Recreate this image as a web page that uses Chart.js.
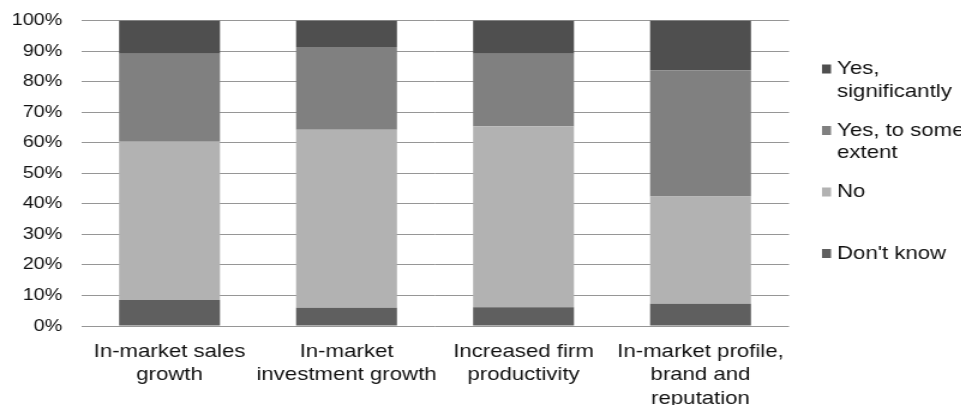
<!DOCTYPE html>
<html>
<head>
<meta charset="utf-8">
<script src="https://cdn.jsdelivr.net/npm/chart.js@4.4.1/dist/chart.umd.min.js"></script>
<style>
  html, body { margin: 0; padding: 0; background: #fff; overflow: hidden; }
  /* the chart is laid out on a narrower canvas and widened to the page width */
  #wrap { width: 801px; height: 405px; transform: scaleX(1.2); transform-origin: 0 0; }
  canvas { display: block; }
</style>
</head>
<body>
<div id="wrap"><canvas id="c" width="801" height="405"></canvas></div>
<script>
// Survey outcomes, share of respondents (%)
const categories = [
  ['In-market sales', 'growth'],
  ['In-market', 'investment growth'],
  ['Increased firm', 'productivity'],
  ['In-market profile,', 'brand and', 'reputation']
];
const dontKnow         = [8.5, 6.0, 6.1, 7.3];
const no               = [51.8, 58.2, 59.3, 35.1];
const yesToSomeExtent  = [28.8, 27.1, 23.7, 41.3];
const yesSignificantly = [10.9, 8.7, 10.9, 16.3];

const seriesNames  = ["Don't know", 'No', 'Yes, to some extent', 'Yes, significantly'];
const legendLines  = [["Don't know"], ['No'], ['Yes, to some', 'extent'], ['Yes,', 'significantly']];
const seriesColors = ['#5f5f5f', '#b2b2b2', '#808080', '#4f4f4f'];

const FONT = "'Liberation Sans', Arial, sans-serif";

// Legend to the right of the plot, top entry = last series
const sideLegend = {
  id: 'sideLegend',
  afterDraw(chart, args, opts) {
    const ctx = chart.ctx;
    const sets = chart.data.datasets;
    ctx.save();
    ctx.font = `${opts.fontSize}px ${FONT}`;
    ctx.textBaseline = 'middle';
    ctx.textAlign = 'left';
    for (let i = 0; i < sets.length; i++) {
      const idx = sets.length - 1 - i;
      const y = opts.top + i * opts.gap;
      ctx.fillStyle = sets[idx].backgroundColor;
      ctx.fillRect(opts.boxX, y - opts.boxH / 2, opts.boxW, opts.boxH);
      ctx.fillStyle = '#111';
      legendLines[idx].forEach((line, j) => {
        ctx.fillText(line, opts.textX, y + j * opts.lineHeight);
      });
    }
    ctx.restore();
  }
};

const datasets = [dontKnow, no, yesToSomeExtent, yesSignificantly].map((values, i) => ({
  label: seriesNames[i],
  data: values,
  backgroundColor: seriesColors[i],
  borderWidth: 0,
  barPercentage: 0.57,
  categoryPercentage: 1.0
}));

new Chart(document.getElementById('c'), {
  type: 'bar',
  data: { labels: categories, datasets },
  plugins: [sideLegend],
  options: {
    responsive: false,
    animation: false,
    layout: { padding: { top: 20.5, right: 143.5, left: 0, bottom: 0 } },
    plugins: {
      legend: { display: false },
      tooltip: { enabled: false },
      sideLegend: {
        top: 69, gap: 61.5, boxX: 685, boxW: 7.5, boxH: 9,
        textX: 697.5, lineHeight: 22.5, fontSize: 18.5
      }
    },
    scales: {
      x: {
        stacked: true,
        grid: { display: false, drawTicks: false },
        border: { display: false },
        ticks: {
          color: '#111',
          font: { family: FONT, size: 18.5, lineHeight: 1.27 },
          padding: 14,
          maxRotation: 0,
          autoSkip: false
        },
        afterFit(scale) { scale.height = 79; }
      },
      y: {
        stacked: true,
        min: 0,
        max: 100,
        grid: { color: '#969696', lineWidth: 1, drawTicks: false },
        border: { display: false },
        ticks: {
          stepSize: 10,
          color: '#111',
          font: { family: FONT, size: 16.5 },
          padding: 15.6,
          callback: v => v + '%'
        },
        afterFit(scale) {
          scale.width = 67.5;
          scale.paddingTop = 0;
          scale.paddingBottom = 0;
        }
      }
    }
  }
});
</script>
</body>
</html>
